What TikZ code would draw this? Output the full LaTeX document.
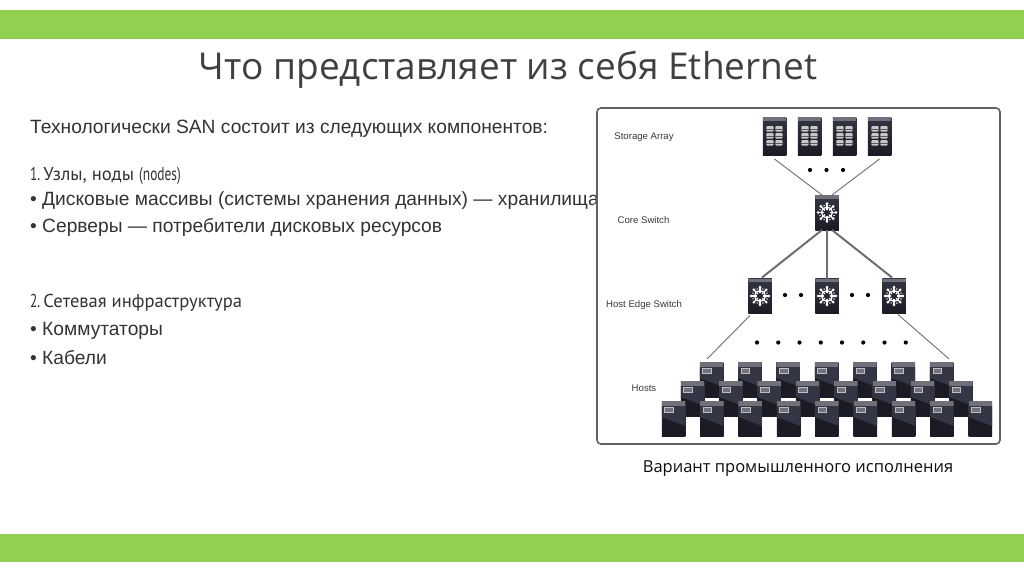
\documentclass[tikz,border=0pt]{standalone}
\usepackage{fontspec}
\setmainfont{Liberation Sans}
\newfontfamily\titlefont{Open Sans}
\newfontfamily\ptfont{PT Sans}
\usetikzlibrary{calc}
\definecolor{barGreen}{HTML}{92D050}
\definecolor{txt}{HTML}{333333}
\definecolor{devDark}{HTML}{1A1B24}
\definecolor{devMid}{HTML}{343645}
\definecolor{devTop}{HTML}{6F7079}
\definecolor{lineGray}{HTML}{6E6E6E}
\newcommand{\sectlabel}[2]{{\ptfont\scalebox{0.72}[1]{#1}\,#2}}
\tikzset{
  bar/.style={fill=barGreen,draw=none},
  bodytext/.style={anchor=base west,inner sep=0,font=\fontsize{19.2}{22}\selectfont,text=txt},
  secttext/.style={anchor=base west,inner sep=0,font=\fontsize{18.6}{22}\selectfont,text=txt},
  paneltext/.style={anchor=base,inner sep=0,font=\fontsize{9.6}{11}\selectfont,text=black!78},
  panel/.style={draw=black!62,line width=1.6pt,fill=white,rounded corners=4pt},
  dev/.style={rectangle,inner sep=0,outer sep=0,minimum width=23.5pt,top color=devMid,bottom color=devDark},
  storagebox/.style={dev,minimum height=38pt,path picture={
    \fill[devTop] (path picture bounding box.north west) rectangle ([yshift=-3.5pt]path picture bounding box.north east);
    \foreach \cx in {-4.6,4.4} \foreach \cy in {7.2,0.2,-6.8}
      {\fill[black!22,rounded corners=1pt] (\cx pt-3.6pt,\cy pt-2.8pt) rectangle (\cx pt+3.6pt,\cy pt+2.8pt);
       \draw[black!65,line width=.4pt] (\cx pt-3.6pt,\cy pt) -- (\cx pt+3.6pt,\cy pt);}
  }},
  switchbox/.style={dev,minimum height=35pt,path picture={
    \fill[devTop] (path picture bounding box.north west) rectangle ([yshift=-3.5pt]path picture bounding box.north east);
    \begin{scope}[yshift=2.5pt]
    \draw[white,line width=1.2pt] (0,0) circle (5.5pt);
    \foreach \a in {0,45,...,315}
      {\draw[white,line width=1.2pt] (\a:3pt) -- (\a:9pt);
       \fill[white] (\a:8.8pt) circle (1.5pt);}
    \foreach \a in {22.5,67.5,...,337.5}
      {\fill[white] (\a:7.6pt) circle (.8pt);}
    \end{scope}
  }},
  hostbox/.style={dev,minimum height=#1,path picture={
    \fill[devDark] (path picture bounding box.south west) rectangle (path picture bounding box.north east);
    \fill[devMid] ([yshift=-5pt]path picture bounding box.north west) -- ([yshift=-5pt]path picture bounding box.north east) -- ([yshift=-25pt]path picture bounding box.north east) -- ([yshift=-16pt]path picture bounding box.north west) -- cycle;
    \fill[devTop] (path picture bounding box.north west) rectangle ([yshift=-4.5pt]path picture bounding box.north east);
    \draw[black!25,line width=.7pt,fill=devMid!70!white] ([xshift=3pt,yshift=-6.5pt]path picture bounding box.north west) rectangle ([xshift=11.5pt,yshift=-11pt]path picture bounding box.north west);
  }},
  hostbox/.default=35pt,
  thinlink/.style={draw=lineGray,line width=.9pt},
  thicklink/.style={draw=lineGray,line width=2pt},
  dotmark/.style={circle,fill=black,inner sep=0,minimum size=4.2pt},
}
\begin{document}
\begin{tikzpicture}[x=1pt,y=-1pt]
\useasboundingbox[fill=white] (0,0) rectangle (1024,574);
\fill[bar] (0,10) rectangle (1024,38.5);
\fill[bar] (0,534) rectangle (1024,562);
\node[anchor=base,inner sep=0,font=\titlefont\fontsize{37}{42}\selectfont,text=black!75] (title) at (508,79) {Что представляет из себя Ethernet};
\node[bodytext] (t1) at (30,133) {Технологически SAN состоит из следующих компонентов:};
\node[secttext] (t2) at (30,180) {\sectlabel{1.}{Узлы, ноды} \ptfont\scalebox{0.72}[1]{(nodes)}};
\node[bodytext] (t3) at (30,205) {• Дисковые массивы (системы хранения данных) — хранилища};
\node[bodytext] (t4) at (30,232) {• Серверы — потребители дисковых ресурсов};
\node[secttext] (t5) at (30,307) {\sectlabel{2.}{Сетевая инфраструктура}};
\node[bodytext] (t6) at (30,335) {• Коммутаторы};
\node[bodytext] (t7) at (30,364) {• Кабели};
\path[panel] (597,108) rectangle (1000,444);
\node[anchor=base,inner sep=0,font=\titlefont\fontsize{16.5}{20}\selectfont,text=black!95] (cap) at (798,472) {Вариант промышленного исполнения};
\node[paneltext] (l1) at (644,139) {Storage Array};
\node[paneltext] (l2) at (643.5,223) {Core Switch};
\node[paneltext] (l3) at (644,307) {Host Edge Switch};
\node[paneltext] (l4) at (644,391) {Hosts};
% devices
\node[storagebox] (s1) at (774.5,136) {};
\node[storagebox] (s2) at (809.5,136) {};
\node[storagebox] (s3) at (844.5,136) {};
\node[storagebox] (s4) at (879.5,136) {};
\node[switchbox] (core) at (827,212.5) {};
\node[switchbox] (e1) at (760,296) {};
\node[switchbox] (e2) at (827,296) {};
\node[switchbox] (e3) at (894,296) {};
\foreach \i in {0,...,6} {
  \pgfmathsetmacro{\xx}{711.5+38.35*\i}
  \node[hostbox] (ha\i) at (\xx,379.5) {};
}
\foreach \i in {0,...,7} {
  \pgfmathsetmacro{\xx}{692.5+38.35*\i}
  \node[hostbox] (hb\i) at (\xx,398.5) {};
}
\foreach \i in {0,...,8} {
  \pgfmathsetmacro{\xx}{673.5+38.35*\i}
  \node[hostbox] (hc\i) at (\xx,418.5) {};
}
% connectors
\coordinate (s1b) at ([yshift=-4pt]s1.south);
\coordinate (s4b) at ([yshift=-4pt]s4.south);
\draw[thinlink] (s1b) -- ([xshift=-5pt]core.north);
\draw[thinlink] (s4b) -- ([xshift=5pt]core.north);
\draw[thicklink] ([xshift=-5pt]core.south) -- ([xshift=2pt,yshift=1pt]e1.north);
\draw[thicklink] (core.south) -- (e2.north);
\draw[thicklink] ([xshift=5pt]core.south) -- ([xshift=-2pt,yshift=1pt]e3.north);
\draw[thinlink] ([xshift=-10pt,yshift=-2pt]e1.south) -- ([xshift=-4.5pt,yshift=3pt]ha0.north);
\draw[thinlink] ([xshift=4pt,yshift=-1pt]e3.south) -- ([xshift=7.5pt,yshift=3pt]ha6.north);
% dots
\foreach \x/\n in {810/a,826.5/b,843/c} \node[dotmark] (d1\n) at (\x,170) {};
\foreach \x/\n in {785/a,801/b,852/c,868/d} \node[dotmark] (d2\n) at (\x,295) {};
\foreach \i in {0,...,7} {
  \pgfmathsetmacro{\xx}{757+21.25*\i}
  \node[dotmark] (d3\i) at (\xx,342.5) {};
}
\end{tikzpicture}
\end{document}
